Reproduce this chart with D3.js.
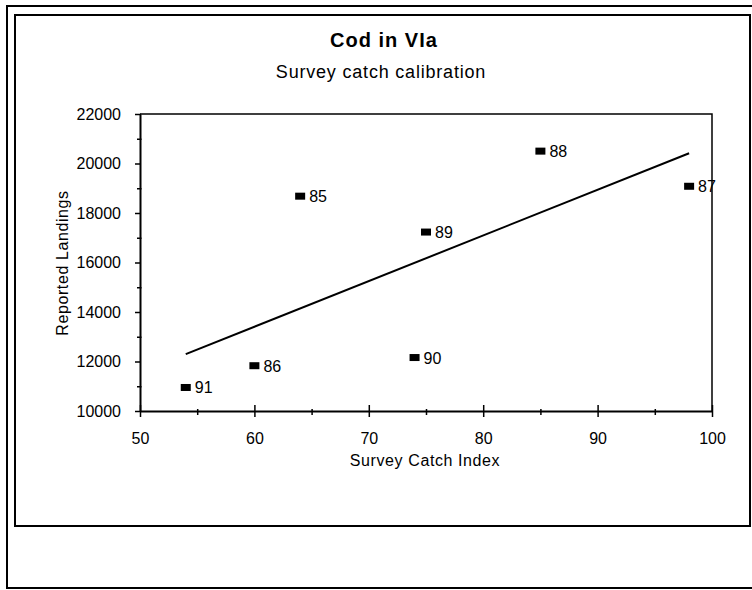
<!DOCTYPE html>
<html>
<head>
<meta charset="utf-8">
<script src="https://cdnjs.cloudflare.com/ajax/libs/d3/7.8.5/d3.min.js"></script>
<style>
  body { margin: 0; background: #fff; }
  text { font-family: "Liberation Sans", Arial, sans-serif; fill: #000; }
</style>
</head>
<body>
<div id="app"></div>
<script>
// survey catch index vs reported landings, labelled by year
const years = ["85", "86", "87", "88", "89", "90", "91"];
const catchIndex = [64, 60, 98, 85, 75, 74, 54];
const landings = [18680, 11830, 19080, 20500, 17230, 12160, 10950];

const xTicks = [50, 60, 70, 80, 90, 100];
const yTicks = [10000, 12000, 14000, 16000, 18000, 20000, 22000];

let width = 752;
let height = 590;

let svg = d3.select("#app")
    .append("svg")
        .attr("width", width)
        .attr("height", height);

// outer + inner frames
svg.append("rect")
    .attr("x", 7).attr("y", 6)
    .attr("width", 760).attr("height", 582)
    .attr("fill", "none").attr("stroke", "#000").attr("stroke-width", 2);
svg.append("rect")
    .attr("x", 15).attr("y", 15)
    .attr("width", 735).attr("height", 511)
    .attr("fill", "none").attr("stroke", "#000").attr("stroke-width", 2);

svg.append("text")
    .attr("x", 384).attr("y", 47)
    .attr("text-anchor", "middle")
    .attr("font-size", 20).attr("font-weight", "bold")
    .attr("letter-spacing", 1)
    .text("Cod in VIa");
svg.append("text")
    .attr("x", 381).attr("y", 78)
    .attr("text-anchor", "middle")
    .attr("font-size", 18)
    .attr("letter-spacing", 0.8)
    .text("Survey catch calibration");

let x = d3.scaleLinear()
    .domain([50, 100])
    .range([140, 712]);

let y = d3.scaleLinear()
    .domain([10000, 22000])
    .range([411, 114]);

// plot border (top and right)
svg.append("path")
    .attr("d", `M${x(50)},${y(22000)}H${x(100)}V${y(10000)}`)
    .attr("fill", "none").attr("stroke", "#000").attr("stroke-width", 1.5);

// minor ticks
svg.append("g")
    .attr("transform", "translate(0," + y(10000) + ")")
    .call(d3.axisBottom(x).tickValues(d3.range(55, 100, 10)).tickSize(4).tickFormat(""))
    .call(g => g.select(".domain").remove())
    .call(g => g.selectAll("line").attr("y1", -2).attr("stroke-width", 1.5));
svg.append("g")
    .attr("transform", "translate(" + x(50) + ",0)")
    .call(d3.axisLeft(y).tickValues(d3.range(11000, 22000, 2000)).tickSize(3).tickFormat(""))
    .call(g => g.select(".domain").remove())
    .call(g => g.selectAll("line").attr("x1", 1.5).attr("stroke-width", 1.5));

let xAxis = svg.append("g")
    .attr("transform", "translate(0," + y(10000) + ")")
    .call(d3.axisBottom(x).tickValues(xTicks).tickSize(6).tickPadding(16).tickSizeOuter(0));
xAxis.selectAll("line").attr("y1", -6).attr("stroke-width", 1.5);
xAxis.select(".domain").attr("stroke-width", 2);
xAxis.selectAll("text").attr("font-size", 16).attr("font-family", "Liberation Sans, Arial, sans-serif");

let yAxis = svg.append("g")
    .attr("transform", "translate(" + x(50) + ",0)")
    .call(d3.axisLeft(y).tickValues(yTicks).tickSize(5).tickPadding(14).tickSizeOuter(0).tickFormat(d3.format("d")));
yAxis.selectAll("line").attr("x1", 1).attr("stroke-width", 1.5);
yAxis.select(".domain").attr("stroke-width", 2);
yAxis.selectAll("text").attr("font-size", 16).attr("font-family", "Liberation Sans, Arial, sans-serif");

svg.append("text")
    .attr("x", 425).attr("y", 466)
    .attr("text-anchor", "middle")
    .attr("font-size", 16)
    .attr("letter-spacing", 0.6)
    .text("Survey Catch Index");
svg.append("text")
    .attr("transform", "translate(68,263) rotate(-90)")
    .attr("text-anchor", "middle")
    .attr("font-size", 16)
    .attr("letter-spacing", 0.6)
    .text("Reported Landings");

// least squares trend line across the data range
let pts = years.map((yr, i) => ({ year: yr, cx: catchIndex[i], ly: landings[i] }));
let mx = d3.mean(catchIndex), my = d3.mean(landings);
let slope = d3.sum(pts, d => (d.cx - mx) * (d.ly - my)) / d3.sum(pts, d => (d.cx - mx) ** 2);
let [x0, x1] = d3.extent(catchIndex);
let fit = [x0, x1].map(v => [v, my + slope * (v - mx)]);

svg.append("path")
    .datum(fit)
    .attr("fill", "none").attr("stroke", "#000").attr("stroke-width", 2)
    .attr("d", d3.line().x(d => x(d[0])).y(d => y(d[1])));

let marks = svg.append("g").selectAll("g")
    .data(pts)
    .enter().append("g")
        .attr("transform", d => `translate(${x(d.cx)},${y(d.ly)})`);
marks.append("rect")
    .attr("x", -5).attr("y", -3.5)
    .attr("width", 10).attr("height", 7)
    .attr("fill", "#000");
marks.append("text")
    .attr("x", 9).attr("y", 6)
    .attr("font-size", 16)
    .text(d => d.year);
</script>
</body>
</html>
